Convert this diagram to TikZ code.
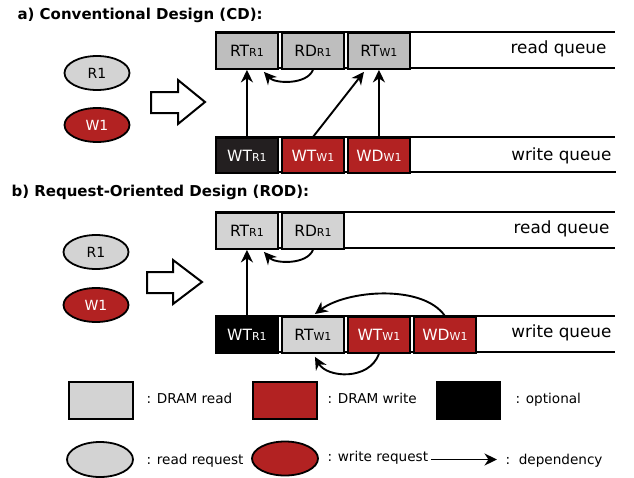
\documentclass[tikz,border=0pt]{standalone}
\usepackage{fontspec}
\setmainfont{DejaVu Sans}
\usetikzlibrary{arrows.meta,calc,shapes.geometric}
\definecolor{qgrayA}{HTML}{BEBEBE}
\definecolor{qgrayB}{HTML}{D3D3D3}
\definecolor{qred}{HTML}{B22222}
\definecolor{qblackA}{HTML}{231F20}
\newcommand\lbl[2]{#1{\fontsize{11}{11}\selectfont #2}}
\tikzset{
  cmd/.style={draw, line width=1.9pt, minimum width=62pt, minimum height=35pt,
    inner sep=0pt, anchor=north west, font=\fontsize{15.5}{15.5}\selectfont},
  rdA/.style={cmd, fill=qgrayA},
  rdB/.style={cmd, fill=qgrayB},
  wr/.style={cmd, fill=qred, text=white},
  opA/.style={cmd, fill=qblackA, text=white},
  opB/.style={cmd, fill=black, text=white},
  qline/.style={line width=1.9pt},
  qlabel/.style={anchor=base east, font=\fontsize{16.8}{16.8}\selectfont},
  title/.style={anchor=base west, font=\fontsize{15}{15}\selectfont\bfseries},
  req/.style={ellipse, draw, line width=1.8pt, minimum width=65pt, minimum height=34pt,
    inner sep=0pt, font=\fontsize{14}{14}\selectfont},
  rreq/.style={req, fill=qgrayB},
  wreq/.style={req, fill=qred, text=white},
  bigarrow/.style={draw, line width=2pt, fill=white, line join=miter},
  dep/.style={line width=1.9pt, -{Stealth[length=12.5pt,width=12pt,inset=4pt]}},
  legbox/.style={draw, line width=1.8pt, minimum width=64pt, minimum height=37pt, inner sep=0pt},
  legtext/.style={anchor=base west, font=\fontsize{13.6}{13.6}\selectfont},
}
\begin{document}
\begin{tikzpicture}[x=1pt,y=-1pt]
\useasboundingbox (0,0) rectangle (634,477);

% ---------- a) Conventional Design ----------
\node[title] (ta) at (14,19) {a) Conventional Design (CD):};
\node[rreq] (aR1) at (97,73) {R1};
\node[wreq] (aW1) at (97,125) {W1};
\draw[bigarrow] (151,92) -- (178,92) -- (178,80) -- (205,102) -- (178,124) -- (178,113) -- (151,113) -- cycle;

% read queue
\draw[qline] (215,32) -- (615,32);
\draw[qline] (215,68) -- (615,68);
\node[rdA, minimum height=36pt] (aRTR1) at (215,32) {\lbl{RT}{R1}};
\node[rdA, minimum height=36pt] (aRDR1) at (281,32) {\lbl{RD}{R1}};
\node[rdA, minimum height=36pt] (aRTW1) at (347,32) {\lbl{RT}{W1}};
\node[qlabel] (aRQ) at (610,53.5) {read queue};

% write queue
\draw[qline] (215,137) -- (615,137);
\draw[qline] (215,172) -- (616,172);
\node[opA] (aWTR1) at (215,137) {\lbl{WT}{R1}};
\node[wr] (aWTW1) at (281,137) {\lbl{WT}{W1}};
\node[wr] (aWDW1) at (347,137) {\lbl{WD}{W1}};
\node[qlabel] (aWQ) at (615,160.5) {write queue};

% dependencies
\draw[dep] (aWTR1.north) -- (aRTR1.south);
\draw[dep] (aWTW1.north) -- ($(aRTW1.south)+(-15,2)$);
\draw[dep] (aWDW1.north) -- (aRTW1.south);
\draw[dep] (aRDR1.south) .. controls ($(aRDR1.south)+(-6,15)$) and ($(aRTR1.south)+(28,14)$) .. ($(aRTR1.south)+(17,2)$);

% ---------- b) Request-Oriented Design ----------
\node[title] (tb) at (8,196.5) {b) Request-Oriented Design (ROD):};
\node[rreq] (bR1) at (96,252) {R1};
\node[wreq] (bW1) at (96,305) {W1};
\draw[bigarrow] (147,272) -- (173,272) -- (173,260) -- (202,282) -- (173,304) -- (173,293) -- (147,293) -- cycle;

% read queue
\draw[qline] (215,212) -- (615,212);
\draw[qline] (215,248) -- (615,248);
\node[rdB, minimum height=36pt] (bRTR1) at (215,212) {\lbl{RT}{R1}};
\node[rdB, minimum height=36pt] (bRDR1) at (281,212) {\lbl{RD}{R1}};
\node[qlabel] (bRQ) at (613,233.5) {read queue};

% write queue
\draw[qline] (215,316) -- (615,316);
\draw[qline] (215,352) -- (615,352);
\node[opB, minimum height=36pt] (bWTR1) at (215,316) {\lbl{WT}{R1}};
\node[rdB, minimum height=36pt] (bRTW1) at (281,316) {\lbl{RT}{W1}};
\node[wr, minimum height=36pt] (bWTW1) at (347,316) {\lbl{WT}{W1}};
\node[wr, minimum height=36pt] (bWDW1) at (413,316) {\lbl{WD}{W1}};
\node[qlabel] (bWQ) at (615,337.5) {write queue};

% dependencies
\draw[dep] (bWTR1.north) -- (bRTR1.south);
\draw[dep] (bRDR1.south) .. controls ($(bRDR1.south)+(-6,15)$) and ($(bRTR1.south)+(28,14)$) .. ($(bRTR1.south)+(17,2)$);
\draw[dep] (bWDW1.north) .. controls ($(bWDW1.north)+(-22,-32)$) and ($(bRTW1.north)+(34,-26)$) .. ($(bRTW1.north)+(2,-2)$);
\draw[dep] (bWTW1.south) .. controls ($(bWTW1.south)+(-10,27)$) and ($(bRTW1.south)+(14,24)$) .. ($(bRTW1.south)+(2,3)$);

% ---------- legend ----------
\node[legbox, fill=qgrayB] (lg1) at (101,400.5) {};
\node[legtext] (lt1) at (143,403) {: DRAM read};
\node[legbox, fill=qred] (lg2) at (285,400.5) {};
\node[legtext] (lt2) at (324,403) {: DRAM write};
\node[legbox, fill=black] (lg3) at (468.5,400.5) {};
\node[legtext] (lt3) at (512,403) {: optional};

\node[rreq, minimum width=66pt, minimum height=35pt] (le1) at (100,459.5) {};
\node[legtext] (lt4) at (143,464) {: read request};
\node[wreq, minimum width=66pt] (le2) at (285,458.5) {};
\node[legtext] (lt5) at (324,461) {: write request};
\coordinate (da) at (431,459.5);
\coordinate (db) at (497,459.5);
\draw[dep] (da) -- (db);
\node[legtext] (lt6) at (502,464) {:\ \ dependency};
\end{tikzpicture}
\end{document}
